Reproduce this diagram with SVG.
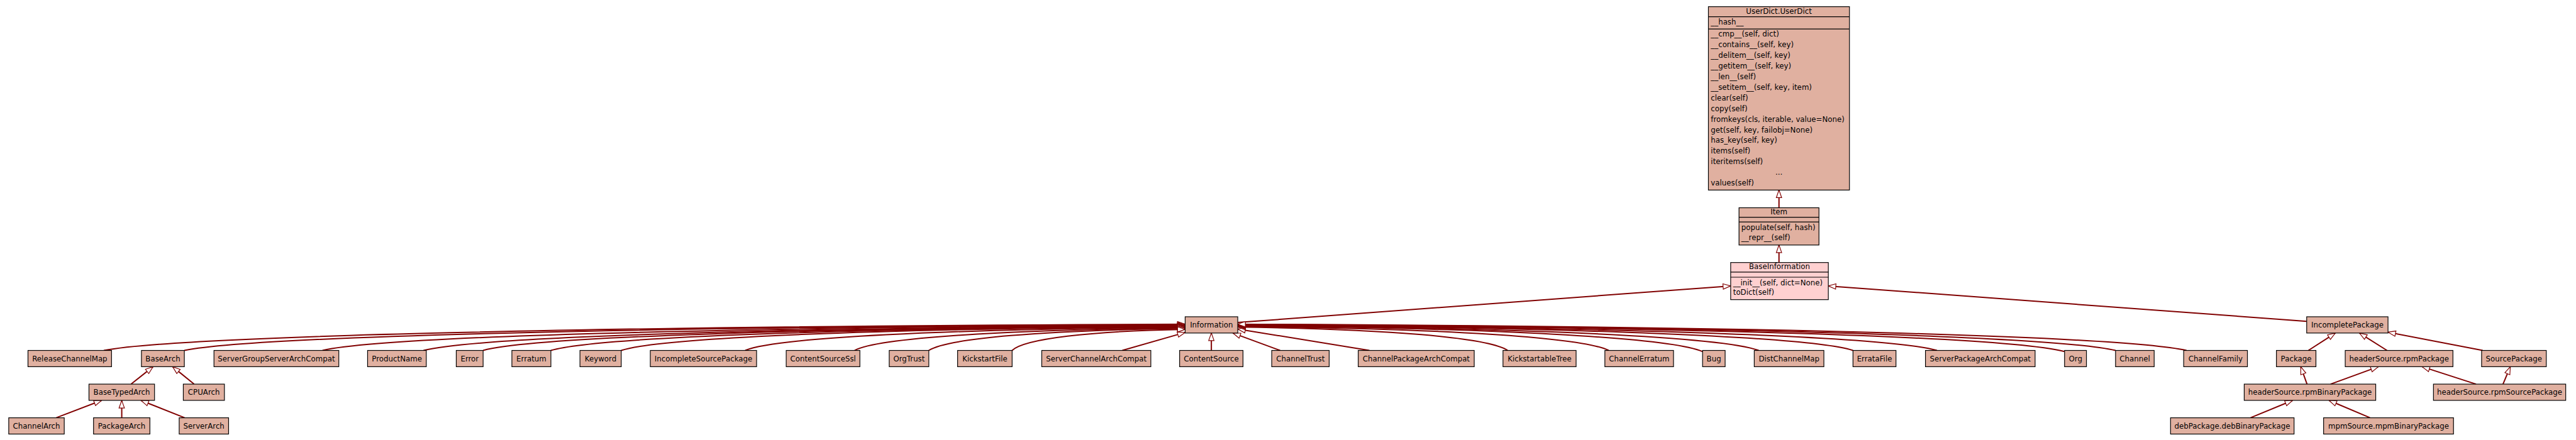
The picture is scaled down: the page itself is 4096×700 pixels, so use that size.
<svg xmlns="http://www.w3.org/2000/svg" width="4096" height="700" viewBox="0 0 4096 700">
<defs>
<marker id="a" markerUnits="userSpaceOnUse" markerWidth="20" markerHeight="16" refX="13.3" refY="5" orient="auto" overflow="visible">
<path d="M0,0.3 L13.3,5 L0,9.7 Z" fill="#fff" stroke="#800000" stroke-width="1.3"/>
</marker>
<style>
.n rect{fill:#e0b0a0;stroke:#000;stroke-width:1.3}
.n line{stroke:#000;stroke-width:1.3}
.s rect{fill:#ffd0d0}
text{font-family:"DejaVu Sans","Liberation Sans",sans-serif;font-size:13px;fill:#000}
.c{text-anchor:middle}
.e path{fill:none;stroke:#800000;stroke-width:2.2;marker-end:url(#a)}
</style>
</defs>
<rect width="4096" height="700" fill="#fff"/>
<g transform="scale(0.908)">
<g class="e" id="connectors">
<path d="M3115.3,364 L3115.3,333"/>
<path d="M3115.3,460 L3115.3,429.3"/>
<path d="M2167.5,565 L3030.7,501"/>
<path d="M4039.4,563 L3201.5,501"/>
<path d="M2121.3,614 L2121.3,583.5"/>
<path d="M181.8,614 C314.4,588.7 1033.9,571.7 2075.4,568"/>
<path d="M322.8,614 C445.5,589.25 1111.5,572.6 2075.4,569"/>
<path d="M564.7,614 C670.4,589.8 1244.5,573.5 2075.4,570"/>
<path d="M741.6,614 C835,590.35 1341.8,574.4 2075.4,571"/>
<path d="M846,614 C932.1,590.6 1399.2,574.9 2075.4,571.5"/>
<path d="M964.7,614 C1042.4,590.9 1464.5,575.4 2075.4,572"/>
<path d="M1087.9,614 C1157,591.2 1532.3,575.8 2075.4,572.5"/>
<path d="M1305,614 C1358.9,591.7 1651.7,576.7 2075.4,573.5"/>
<path d="M1496.5,614 C1537,592.3 1757,577.7 2075.4,574.5"/>
<path d="M1626.5,614 C1657.9,592.8 1828.5,578.6 2075.4,575.5"/>
<path d="M1772.4,614 C1793.6,593.65 1908.8,580 2075.4,577"/>
<path d="M1965.3,614 L2075.4,582.5"/>
<path d="M2241.7,614 L2159,583.5"/>
<path d="M2398,614 L2167.5,576.5"/>
<path d="M2640.2,614 C2607.1,591.45 2427.5,576.3 2167.5,573"/>
<path d="M2817.1,614 C2771.6,590.9 2524.8,575.4 2167.5,572"/>
<path d="M2981.5,616 C2924.5,591.25 2615.2,574.6 2167.5,571"/>
<path d="M3079.7,614 C3015.8,590.1 2669.2,574 2167.5,570.5"/>
<path d="M3244.9,614 C3169.5,589.8 2760.1,573.5 2167.5,570"/>
<path d="M3392,614 C3306.3,589.5 2841,573.1 2167.5,569.5"/>
<path d="M3615.4,616 C3514,590.15 2963.8,572.8 2167.5,569"/>
<path d="M3704.7,614 C3597.1,589 3013,572.1 2167.5,568.5"/>
<path d="M3829,614 C3712.7,588.7 3081.3,571.7 2167.5,568"/>
<path d="M229.6,673 L268,642.5"/>
<path d="M339.8,673 L302.3,642.5"/>
<path d="M98.4,732 L178,701.5"/>
<path d="M213.2,732 L213.2,701.5"/>
<path d="M323.4,732 L246.8,701.5"/>
<path d="M4042.4,614 L4089.6,583.5"/>
<path d="M4180,614 L4131.8,583.5"/>
<path d="M4347.7,614 L4181.8,582"/>
<path d="M4040,673 L4029,642.5"/>
<path d="M4081.2,673 L4164.9,642.5"/>
<path d="M4336,673 L4241.5,642.5"/>
<path d="M4383.2,673 L4396,642.5"/>
<path d="M4150.4,732 L4078.5,701.5"/>
<path d="M3941,732 L4014.8,701.5"/>
</g>
<g class="n" id="UserDict">
<rect x="2991.7" y="11.7" width="247" height="321.3"/>
<line x1="2991.7" y1="29.3" x2="3238.7" y2="29.3"/>
<line x1="2991.7" y1="50.7" x2="3238.7" y2="50.7"/>
<text class="c" x="3115.2" y="24">UserDict.UserDict</text>
<text x="2996" y="43.5">__hash__</text>
<text x="2996" y="64">__cmp__(self, dict)</text>
<text x="2996" y="82.65">__contains__(self, key)</text>
<text x="2996" y="101.3">__delitem__(self, key)</text>
<text x="2996" y="119.95">__getitem__(self, key)</text>
<text x="2996" y="138.6">__len__(self)</text>
<text x="2996" y="157.25">__setitem__(self, key, item)</text>
<text x="2996" y="175.9">clear(self)</text>
<text x="2996" y="194.55">copy(self)</text>
<text x="2996" y="213.2">fromkeys(cls, iterable, value=None)</text>
<text x="2996" y="231.85">get(self, key, failobj=None)</text>
<text x="2996" y="250.5">has_key(self, key)</text>
<text x="2996" y="269.15">items(self)</text>
<text x="2996" y="287.8">iteritems(self)</text>
<text class="c" x="3115.2" y="306.45">...</text>
<text x="2996" y="325.1">values(self)</text>
</g>
<g class="n" id="Item">
<rect x="3045.3" y="364" width="140" height="65.3"/>
<line x1="3045.3" y1="380.7" x2="3185.3" y2="380.7"/>
<line x1="3045.3" y1="389" x2="3185.3" y2="389"/>
<text class="c" x="3115.3" y="375.5">Item</text>
<text x="3049.3" y="403.3">populate(self, hash)</text>
<text x="3049.3" y="421">__repr__(self)</text>
</g>
<g class="n s" id="BaseInformation">
<rect x="3030.7" y="460" width="171" height="65"/>
<line x1="3030.7" y1="476.7" x2="3201.7" y2="476.7"/>
<line x1="3030.7" y1="485.7" x2="3201.7" y2="485.7"/>
<text class="c" x="3116.2" y="471.5">BaseInformation</text>
<text x="3035" y="499.5">__init__(self, dict=None)</text>
<text x="3035" y="517">toDict(self)</text>
</g>
<g class="n" id="Information"><rect x="2075.4" y="555" width="92.1" height="28.5"/><text class="c" x="2121.45" y="573.9">Information</text></g>
<g class="n" id="IncompletePackage"><rect x="4039.4" y="555" width="142.4" height="28.5"/><text class="c" x="4110.6" y="573.9">IncompletePackage</text></g>
<g class="n" id="ReleaseChannelMap"><rect x="49" y="614" width="146.3" height="28.5"/><text class="c" x="122.15" y="632.9">ReleaseChannelMap</text></g>
<g class="n" id="BaseArch"><rect x="247.7" y="614" width="75.1" height="28.5"/><text class="c" x="285.25" y="632.9">BaseArch</text></g>
<g class="n" id="ServerGroupServerArchCompat"><rect x="374.7" y="614" width="218.6" height="28.5"/><text class="c" x="484" y="632.9">ServerGroupServerArchCompat</text></g>
<g class="n" id="ProductName"><rect x="643.7" y="614" width="102.8" height="28.5"/><text class="c" x="695.1" y="632.9">ProductName</text></g>
<g class="n" id="Error"><rect x="799" y="614" width="47" height="28.5"/><text class="c" x="822.5" y="632.9">Error</text></g>
<g class="n" id="Erratum"><rect x="896.4" y="614" width="68.3" height="28.5"/><text class="c" x="930.55" y="632.9">Erratum</text></g>
<g class="n" id="Keyword"><rect x="1015.6" y="614" width="72.3" height="28.5"/><text class="c" x="1051.75" y="632.9">Keyword</text></g>
<g class="n" id="IncompleteSourcePackage"><rect x="1138.8" y="614" width="186.1" height="28.5"/><text class="c" x="1231.85" y="632.9">IncompleteSourcePackage</text></g>
<g class="n" id="ContentSourceSsl"><rect x="1376.8" y="614" width="129" height="28.5"/><text class="c" x="1441.3" y="632.9">ContentSourceSsl</text></g>
<g class="n" id="OrgTrust"><rect x="1557.2" y="614" width="69.3" height="28.5"/><text class="c" x="1591.85" y="632.9">OrgTrust</text></g>
<g class="n" id="KickstartFile"><rect x="1676.9" y="614" width="95.5" height="28.5"/><text class="c" x="1724.65" y="632.9">KickstartFile</text></g>
<g class="n" id="ServerChannelArchCompat"><rect x="1824.3" y="614" width="191" height="28.5"/><text class="c" x="1919.8" y="632.9">ServerChannelArchCompat</text></g>
<g class="n" id="ContentSource"><rect x="2065.7" y="614" width="111" height="28.5"/><text class="c" x="2121.2" y="632.9">ContentSource</text></g>
<g class="n" id="ChannelTrust"><rect x="2227" y="614" width="100.6" height="28.5"/><text class="c" x="2277.3" y="632.9">ChannelTrust</text></g>
<g class="n" id="ChannelPackageArchCompat"><rect x="2378.5" y="614" width="203.1" height="28.5"/><text class="c" x="2480.05" y="632.9">ChannelPackageArchCompat</text></g>
<g class="n" id="KickstartableTree"><rect x="2632" y="614" width="128" height="28.5"/><text class="c" x="2696" y="632.9">KickstartableTree</text></g>
<g class="n" id="ChannelErratum"><rect x="2810.4" y="614" width="120.2" height="28.5"/><text class="c" x="2870.5" y="632.9">ChannelErratum</text></g>
<g class="n" id="Bug"><rect x="2981.5" y="614" width="39.5" height="28.5"/><text class="c" x="3001.25" y="632.9">Bug</text></g>
<g class="n" id="DistChannelMap"><rect x="3072" y="614" width="121.9" height="28.5"/><text class="c" x="3132.95" y="632.9">DistChannelMap</text></g>
<g class="n" id="ErrataFile"><rect x="3244.9" y="614" width="75.3" height="28.5"/><text class="c" x="3282.55" y="632.9">ErrataFile</text></g>
<g class="n" id="ServerPackageArchCompat"><rect x="3371.8" y="614" width="192" height="28.5"/><text class="c" x="3467.8" y="632.9">ServerPackageArchCompat</text></g>
<g class="n" id="Org"><rect x="3615.4" y="614" width="38.3" height="28.5"/><text class="c" x="3634.55" y="632.9">Org</text></g>
<g class="n" id="Channel"><rect x="3704.7" y="614" width="67.6" height="28.5"/><text class="c" x="3738.5" y="632.9">Channel</text></g>
<g class="n" id="ChannelFamily"><rect x="3824" y="614" width="111.6" height="28.5"/><text class="c" x="3879.8" y="632.9">ChannelFamily</text></g>
<g class="n" id="Package"><rect x="3986.4" y="614" width="69.2" height="28.5"/><text class="c" x="4021" y="632.9">Package</text></g>
<g class="n" id="headerSource.rpmPackage"><rect x="4106.9" y="614" width="188.6" height="28.5"/><text class="c" x="4201.2" y="632.9">headerSource.rpmPackage</text></g>
<g class="n" id="SourcePackage"><rect x="4345.7" y="614" width="113.3" height="28.5"/><text class="c" x="4402.35" y="632.9">SourcePackage</text></g>
<g class="n" id="BaseTypedArch"><rect x="155.8" y="673" width="114.8" height="28.5"/><text class="c" x="213.2" y="691.9">BaseTypedArch</text></g>
<g class="n" id="CPUArch"><rect x="321" y="673" width="72" height="28.5"/><text class="c" x="357" y="691.9">CPUArch</text></g>
<g class="n" id="headerSource.rpmBinaryPackage"><rect x="3930" y="673" width="230.3" height="28.5"/><text class="c" x="4045.15" y="691.9">headerSource.rpmBinaryPackage</text></g>
<g class="n" id="headerSource.rpmSourcePackage"><rect x="4261.4" y="673" width="231.6" height="28.5"/><text class="c" x="4377.2" y="691.9">headerSource.rpmSourcePackage</text></g>
<g class="n" id="ChannelArch"><rect x="15.3" y="732" width="97.2" height="28.5"/><text class="c" x="63.9" y="750.9">ChannelArch</text></g>
<g class="n" id="PackageArch"><rect x="163.8" y="732" width="98.7" height="28.5"/><text class="c" x="213.15" y="750.9">PackageArch</text></g>
<g class="n" id="ServerArch"><rect x="313.8" y="732" width="86.5" height="28.5"/><text class="c" x="357.05" y="750.9">ServerArch</text></g>
<g class="n" id="debPackage.debBinaryPackage"><rect x="3801" y="732" width="216.3" height="28.5"/><text class="c" x="3909.15" y="750.9">debPackage.debBinaryPackage</text></g>
<g class="n" id="mpmSource.mpmBinaryPackage"><rect x="4069" y="732" width="227.5" height="28.5"/><text class="c" x="4182.75" y="750.9">mpmSource.mpmBinaryPackage</text></g>
</g>
</svg>
